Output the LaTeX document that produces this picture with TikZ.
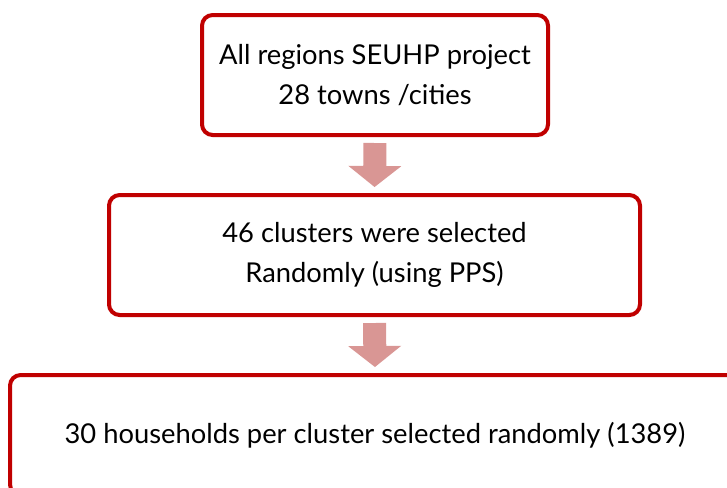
\documentclass[tikz,border=0pt]{standalone}
\usepackage{fontspec}
\setmainfont{Lato}
\usepackage{tikz}
\usetikzlibrary{arrows.meta, positioning}
\definecolor{boxred}{RGB}{192,0,0}
\definecolor{arrowpink}{RGB}{217,150,148}
\tikzset{
  stagebox/.style={rectangle, draw=boxred, fill=white, line width=3pt,
    rounded corners=8pt, align=center, minimum height=90pt,
    font=\fontsize{20.5}{30.5}\selectfont, text=black},
  flowarrow/.style={draw=arrowpink, line width=17.25pt,
    -{Triangle[width=39.75pt, length=15.75pt, line width=0pt]},
    shorten <=4.5pt, shorten >=4.5pt}
}
\begin{document}
\begin{tikzpicture}[x=0.75pt, y=-0.75pt]
  \useasboundingbox (0,0) rectangle (727,487);
  \clip (0,0) rectangle (727,487);

  % Sampling stages
  \node[stagebox, minimum width=259.5pt] (regions) at (375,75)
    {All regions SEUHP project\\28 towns /cities};
  \node[stagebox, minimum width=398.25pt] (clusters) at (374.5,255)
    {46 clusters were selected\\Randomly (using PPS)};
  \node[stagebox, minimum width=547.5pt] (households) at (375,435)
    {30 households per cluster selected randomly (1389)};

  % Arrows between stages
  \draw[flowarrow] (regions.south) -- (clusters.north);
  \draw[flowarrow] (clusters.south) -- (households.north);
\end{tikzpicture}
\end{document}
